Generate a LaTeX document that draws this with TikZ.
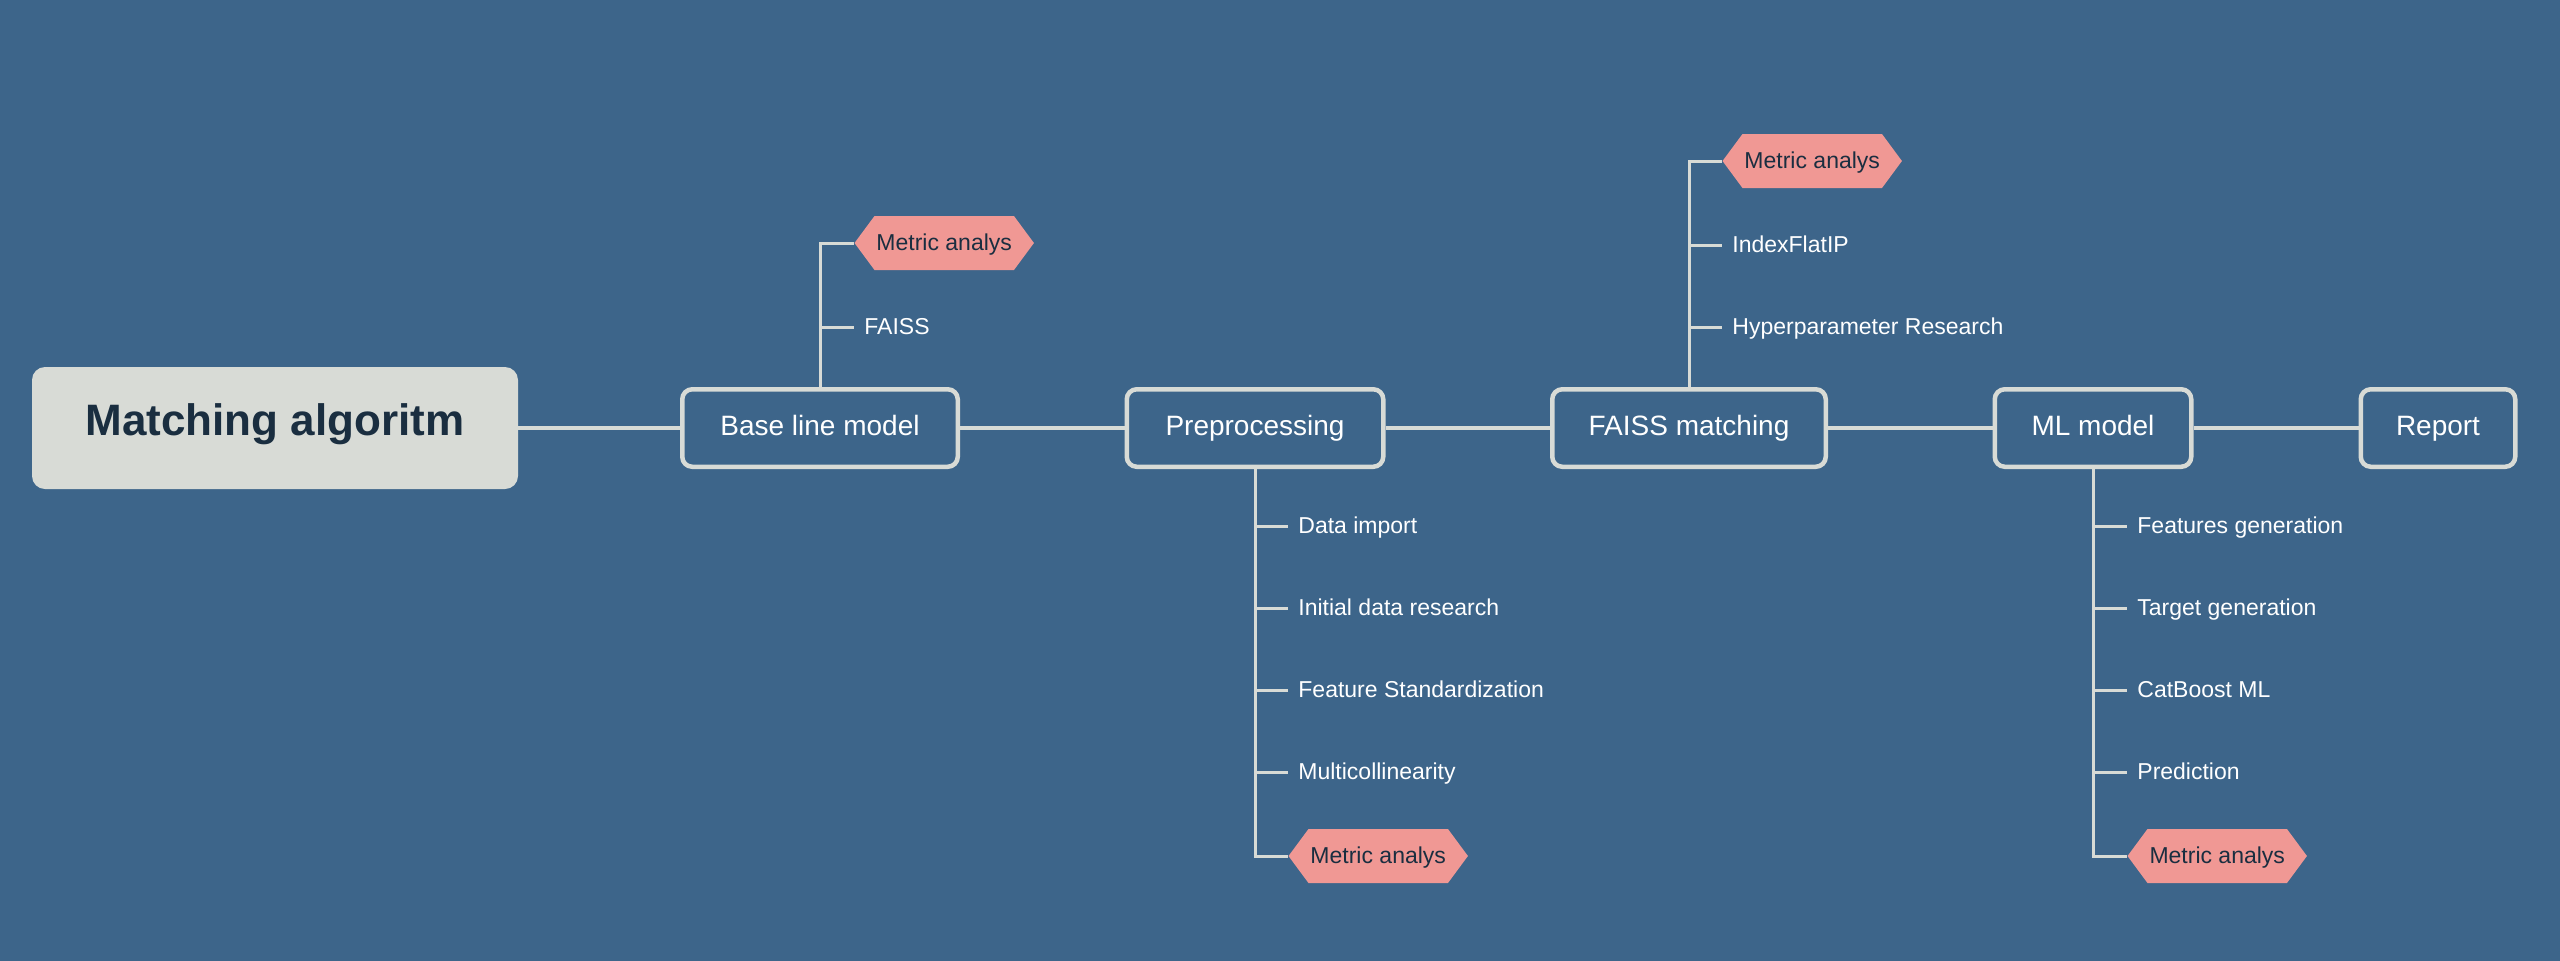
\documentclass[tikz,border=0pt]{standalone}
\usepackage{fontspec}
\setmainfont{Liberation Sans}
\usetikzlibrary{shapes.symbols}
\definecolor{bgBlue}{RGB}{61,101,138}
\definecolor{lineGray}{RGB}{216,219,214}
\definecolor{metricRed}{RGB}{240,152,148}
\definecolor{darkNavy}{RGB}{26,46,64}
\def\stepGap{82}
\def\prepX{1288}
\def\mlX{2127}
\tikzset{
  capline/.style={text height=0.72em, text depth=0pt},
  stage/.style={capline, draw=lineGray, line width=2.25pt, rounded corners=5pt,
    minimum height=38.75pt, text=white, font=\fontsize{14}{17}\selectfont},
  item/.style={capline, anchor=west, inner xsep=5pt, inner ysep=2pt, text=white,
    font=\fontsize{11.5}{14}\selectfont},
  metric/.style={capline, signal, signal to=west and east, signal pointer angle=107,
    fill=metricRed, minimum height=27pt, inner xsep=1pt, anchor=west,
    text=darkNavy, font=\fontsize{11.5}{14}\selectfont},
  link/.style={lineGray, line width=2pt},
  branch/.style={lineGray, line width=1.5pt}
}

\begin{document}
\begin{tikzpicture}[x=0.5pt, y=-0.5pt]
\useasboundingbox (0,0) rectangle (2560,960);
\fill[bgBlue] (-4,-4) rectangle (2564,964);
\node[capline, fill=lineGray, rounded corners=6.5pt, minimum width=243pt, minimum height=61pt,
  text=darkNavy, font=\fontsize{22}{26}\selectfont\bfseries] (main) at (275,428) {Matching algoritm};
\node[stage, minimum width=137.75pt] (base) at (820,428) {Base line model};
\node[stage, minimum width=128.25pt] (prep) at (1255,428) {Preprocessing};
\node[stage, minimum width=136.75pt] (faiss) at (1689,428) {FAISS matching};
\node[stage, minimum width=98.25pt] (ml) at (2093,428) {ML model};
\node[stage, minimum width=77.25pt] (report) at (2438,428) {Report};
\foreach \a/\b in {main/base, base/prep, prep/faiss, faiss/ml, ml/report}
  \draw[link] (\a) -- (\b);

\node[item] (baseFaiss) at (854,327) {FAISS};
\node[metric] (baseMetric) at (854,243) {Metric analys};
\draw[branch] (base.north) |- (baseMetric.west);
\draw[branch] (base.north) |- (baseFaiss.west);

\node[item] (faissHyper) at (1722,327) {Hyperparameter Research};
\node[item] (faissIndex) at (1722,245) {IndexFlatIP};
\node[metric] (faissMetric) at (1722,161) {Metric analys};
\draw[branch] (faiss.north) |- (faissMetric.west);
\draw[branch] (faiss.north) |- (faissIndex.west);
\draw[branch] (faiss.north) |- (faissHyper.west);

\foreach \i/\txt in {1/Data import, 2/Initial data research, 3/Feature Standardization, 4/Multicollinearity}
{
  \node[item] (prep\i) at (\prepX,{444+\stepGap*\i}) {\txt};
  \draw[branch] (prep.south) |- (prep\i.west);
}
\node[metric] (prepMetric) at (\prepX,856) {Metric analys};
\draw[branch] (prep.south) |- (prepMetric.west);

\foreach \i/\txt in {1/Features generation, 2/Target generation, 3/CatBoost ML, 4/Prediction}
{
  \node[item] (ml\i) at (\mlX,{444+\stepGap*\i}) {\txt};
  \draw[branch] (ml.south) |- (ml\i.west);
}
\node[metric] (mlMetric) at (\mlX,856) {Metric analys};
\draw[branch] (ml.south) |- (mlMetric.west);
\end{tikzpicture}
\end{document}
